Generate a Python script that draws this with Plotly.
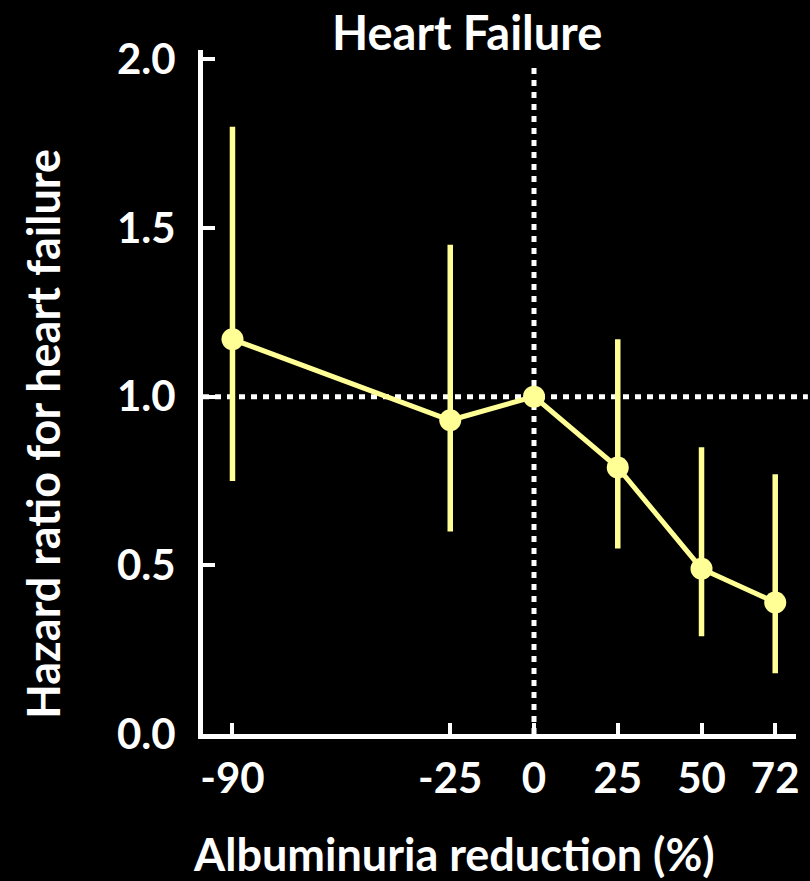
import plotly.graph_objects as go

# Data
reduction = [-90, -25, 0, 25, 50, 72]
hazard_ratio = [1.17, 0.93, 1.00, 0.79, 0.49, 0.39]
ci_upper = [1.80, 1.45, 1.00, 1.17, 0.85, 0.77]
ci_lower = [0.75, 0.60, 1.00, 0.55, 0.29, 0.18]
x_ticks = [-90, -25, 0, 25, 50, 72]
y_ticks = [0.0, 0.5, 1.0, 1.5, 2.0]
y_tick_labels = ["0.0", "0.5", "1.0", "1.5", "2.0"]

err_plus = [u - h for u, h in zip(ci_upper, hazard_ratio)]
err_minus = [h - l for h, l in zip(hazard_ratio, ci_lower)]

YELLOW = "#FFFF96"
FONT = "Lato"
W, H = 810, 881
ML, MR, MT, MB = 203, 11, 50, 147

fig = go.Figure()

fig.add_trace(go.Scatter(
    x=reduction, y=hazard_ratio,
    mode="lines+markers",
    line=dict(color=YELLOW, width=5),
    marker=dict(color=YELLOW, size=22),
    error_y=dict(type="data", symmetric=False, array=err_plus, arrayminus=err_minus,
                 color=YELLOW, thickness=5.5, width=0),
    showlegend=False,
    cliponaxis=False,
))

# reference lines
fig.add_shape(type="line", xref="x", yref="y", x0=0, x1=0, y0=0, y1=1.977,
              line=dict(color="white", width=5, dash="6px,6px"), layer="below")
fig.add_shape(type="line", xref="paper", yref="y", x0=0, x1=1.02, y0=1.0, y1=1.0,
              line=dict(color="white", width=5, dash="6px,6px"), layer="below")

pw = W - ML - MR
ph = H - MT - MB


def px_to_paper(x, y):
    return (x - ML) / pw, ((H - y) - MB) / ph


ann = []
for text, xp, yp, size, angle in [
    ("<b>Heart Failure</b>", 468, 32, 47, 0),
    ("<b>Albuminuria reduction (%)</b>", 455, 854, 45, 0),
    ("<b>Hazard ratio for heart failure</b>", 42, 434, 45, -90),
]:
    ax_, ay_ = px_to_paper(xp, yp)
    ann.append(dict(text=text, x=ax_, y=ay_, xref="paper", yref="paper",
                    xanchor="center", yanchor="middle", showarrow=False,
                    textangle=angle, font=dict(family=FONT, size=size, color="white")))

fig.update_layout(
    width=W, height=H,
    paper_bgcolor="black", plot_bgcolor="black",
    margin=dict(l=ML, r=MR, t=MT, b=MB),
    font=dict(family=FONT, color="white", size=42),
    xaxis=dict(
        range=[-98.8, 78.2], tickmode="array", tickvals=x_ticks,
        ticktext=[str(v) for v in x_ticks],
        showgrid=False, zeroline=False,
        showline=True, linecolor="white", linewidth=5,
        ticks="inside", ticklen=11, tickwidth=4, tickcolor="white",
        tickfont=dict(family=FONT, size=42, color="white", weight="bold"),
        ticklabelstandoff=4,
    ),
    yaxis=dict(
        range=[0, 2.0275], tickmode="array", tickvals=y_ticks, ticktext=y_tick_labels,
        showgrid=False, zeroline=False,
        showline=True, linecolor="white", linewidth=5,
        ticks="inside", ticklen=12, tickwidth=4, tickcolor="white",
        tickfont=dict(family=FONT, size=42, color="white", weight="bold"),
        ticklabelstandoff=14,
    ),
    annotations=ann,
)

fig.write_html(
    "out.html",
    config={"displayModeBar": False},
    post_script="document.body.style.margin='0';document.body.style.padding='0';"
                "document.body.style.background='black';"
                "document.documentElement.style.overflow='hidden';",
)
